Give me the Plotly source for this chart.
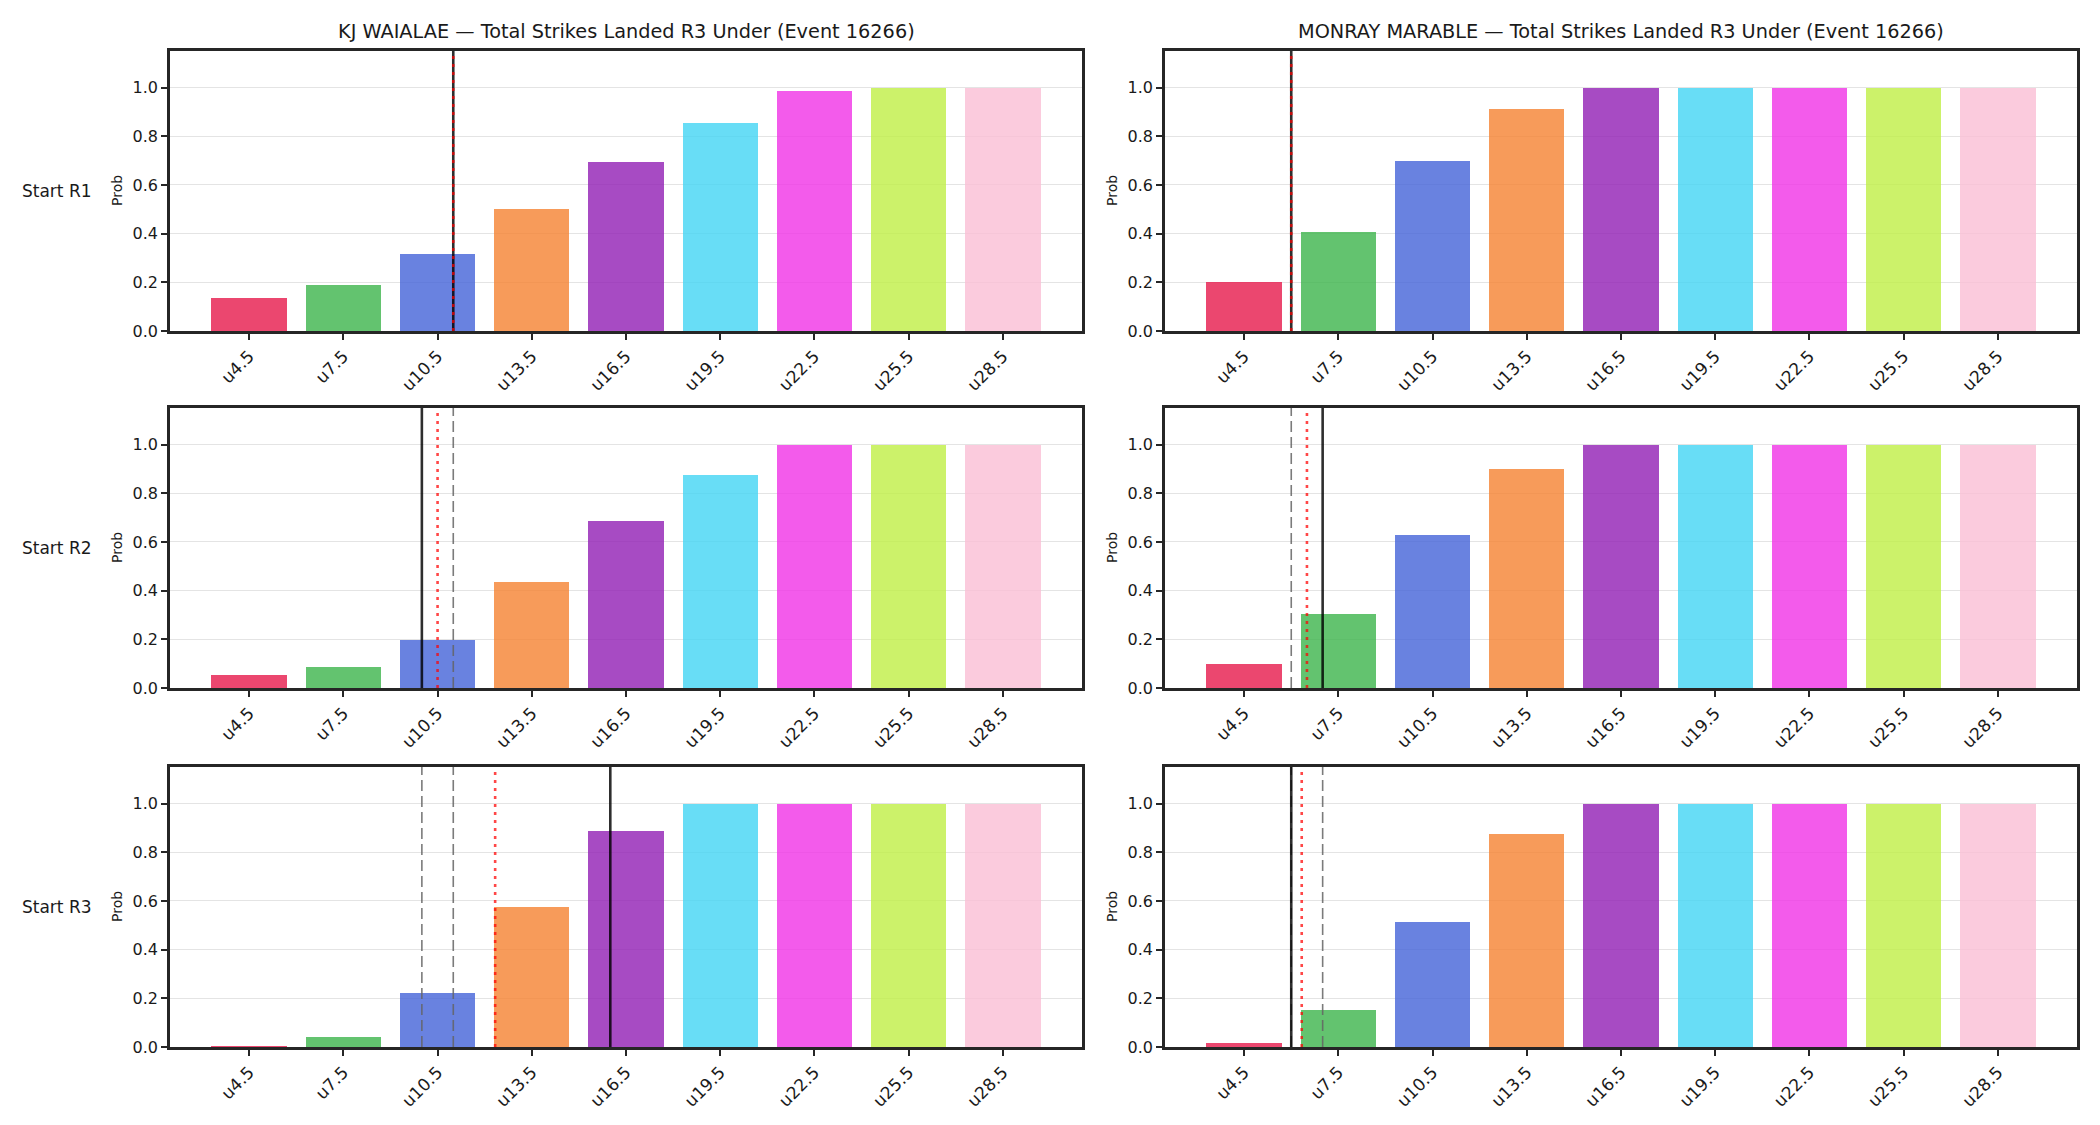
import numpy as np
import plotly.graph_objects as go

W, H = 2100, 1125

# ---------------- data ----------------
categories = ["u4.5", "u7.5", "u10.5", "u13.5", "u16.5", "u19.5", "u22.5", "u25.5", "u28.5"]
thresholds = [4.5, 7.5, 10.5, 13.5, 16.5, 19.5, 22.5, 25.5, 28.5]
fighters = ["KJ WAIALAE", "MONRAY MARABLE"]
event_title = "Total Strikes Landed R3 Under (Event 16266)"
row_labels = ["Start R1", "Start R2", "Start R3"]

kj_r1 = [0.136, 0.188, 0.315, 0.500, 0.693, 0.856, 0.985, 0.998, 1.000]
kj_r2 = [0.052, 0.085, 0.196, 0.434, 0.685, 0.874, 0.997, 1.000, 1.000]
kj_r3 = [0.004, 0.042, 0.223, 0.575, 0.887, 1.000, 1.000, 1.000, 1.000]
mm_r1 = [0.203, 0.405, 0.697, 0.911, 1.000, 1.000, 1.000, 1.000, 1.000]
mm_r2 = [0.097, 0.303, 0.627, 0.899, 1.000, 1.000, 1.000, 1.000, 1.000]
mm_r3 = [0.015, 0.154, 0.515, 0.874, 1.000, 1.000, 1.000, 1.000, 1.000]

# strikes at start of each round (vertical markers)
kj_starts = [11, 10, 16]
mm_starts = [6, 7, 6]

bar_colors = ["#e6194b", "#3cb44b", "#4363d8", "#f58231", "#911eb4",
              "#42d4f4", "#f032e6", "#bfef45", "#fabed4"]

values = {0: [kj_r1, kj_r2, kj_r3], 1: [mm_r1, mm_r2, mm_r3]}
starts = {0: kj_starts, 1: mm_starts}

# ---------------- layout geometry (px) ----------------
x_dom_px = [(170, 1082), (1165, 2077)]
y_dom_px = [(51, 331), (408, 688), (767, 1047)]


def hex_rgba(h, a):
    h = h.lstrip("#")
    return "rgba(%d,%d,%d,%.2f)" % (int(h[0:2], 16), int(h[2:4], 16), int(h[4:6], 16), a)


def pos(v):
    # map a strike count onto the category index scale
    return float(np.interp(v, thresholds, np.arange(len(thresholds))))


FONT = "DejaVu Sans"
TXT = "#1a1a1a"
fig = go.Figure()
layout = dict(
    width=W, height=H, margin=dict(l=0, r=0, t=0, b=0, autoexpand=False),
    paper_bgcolor="white", plot_bgcolor="white", showlegend=False,
    font=dict(family=FONT, color=TXT, size=16),
    bargap=0,
)
shapes = []
annotations = []
idx = np.arange(len(categories))

n = 0
for c in range(2):
    for r in range(3):
        n += 1
        xa = "x" if n == 1 else "x%d" % n
        ya = "y" if n == 1 else "y%d" % n
        xkey = "xaxis" if n == 1 else "xaxis%d" % n
        ykey = "yaxis" if n == 1 else "yaxis%d" % n
        x0, x1 = x_dom_px[c]
        y0, y1 = y_dom_px[r]
        layout[xkey] = dict(
            domain=[x0 / W, x1 / W], anchor=ya, range=[-0.84, 8.84],
            tickmode="array", tickvals=list(idx), ticktext=categories,
            tickangle=-45, ticks="outside", ticklen=6, tickwidth=2, tickcolor="#262626",
            showline=True, linewidth=2.5, linecolor="#262626", mirror=True,
            showgrid=False, zeroline=False, tickfont=dict(size=17, color=TXT),
            fixedrange=True, automargin=False,
        )
        layout[ykey] = dict(
            domain=[1 - y1 / H, 1 - y0 / H], anchor=xa, range=[0, 1.15],
            tickmode="array", tickvals=[0, 0.2, 0.4, 0.6, 0.8, 1.0],
            ticktext=["0.0", "0.2", "0.4", "0.6", "0.8", "1.0"],
            ticks="outside", ticklen=6, tickwidth=2, tickcolor="#262626",
            showline=True, linewidth=2.5, linecolor="#262626", mirror=True,
            showgrid=True, gridcolor="#e4e4e4", gridwidth=1.2, zeroline=False,
            tickfont=dict(size=16, color=TXT), fixedrange=True, automargin=False,
        )
        vals = values[c][r]
        fig.add_trace(go.Bar(
            x=idx, y=vals, width=0.8, xaxis=xa, yaxis=ya,
            marker=dict(color=[hex_rgba(col, 0.8) for col in bar_colors], line=dict(width=0)),
            hoverinfo="x+y",
        ))
        # vertical markers
        st = starts[c]
        for prev in st[:r]:
            shapes.append(dict(type="line", xref=xa, yref=ya + " domain", x0=pos(prev), x1=pos(prev),
                               y0=0, y1=1, line=dict(color="rgba(100,100,100,0.85)", width=1.6, dash="11px,5px"),
                               layer="above"))
        cur = st[r]
        shapes.append(dict(type="line", xref=xa, yref=ya + " domain", x0=pos(cur), x1=pos(cur),
                           y0=0, y1=1, line=dict(color="rgba(0,0,0,0.82)", width=2.6), layer="above"))
        avg = float(np.mean(st[: r + 1]))
        shapes.append(dict(type="line", xref=xa, yref=ya + " domain", x0=pos(avg), x1=pos(avg),
                           y0=0, y1=1, line=dict(color="rgba(255,0,0,0.72)", width=2.6, dash="3px,5px"),
                           layer="above"))
        # "Prob" label
        annotations.append(dict(
            text="Prob", x=(x0 - 53) / W, y=1 - (y0 + y1) / 2 / H, xref="paper", yref="paper",
            xanchor="center", yanchor="middle", showarrow=False, textangle=-90,
            font=dict(size=14, color=TXT),
        ))
        if r == 0:
            annotations.append(dict(
                text="%s \u2014 %s" % (fighters[c], event_title),
                x=(x0 + x1) / 2 / W, y=1 - 31 / H, xref="paper", yref="paper",
                xanchor="center", yanchor="middle", showarrow=False,
                font=dict(size=19.3, color=TXT),
            ))
        if c == 0:
            annotations.append(dict(
                text=row_labels[r], x=57 / W, y=1 - (y0 + y1) / 2 / H, xref="paper", yref="paper",
                xanchor="center", yanchor="middle", showarrow=False,
                font=dict(size=17, color=TXT),
            ))

layout["shapes"] = shapes
layout["annotations"] = annotations
fig.update_layout(**layout)
fig.write_html("out.html")
